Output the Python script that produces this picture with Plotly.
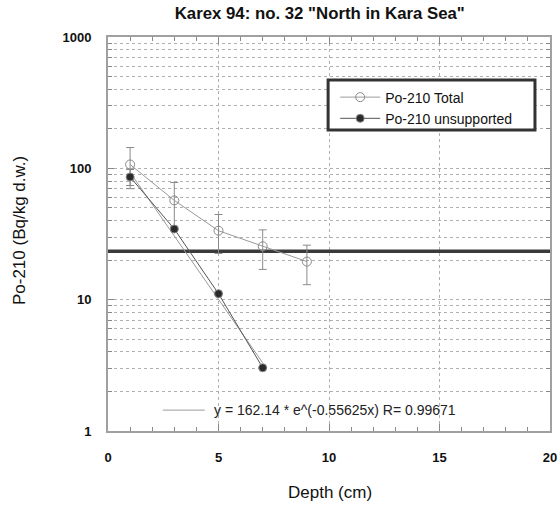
import math
import plotly.graph_objects as go

depth_total = [1, 3, 5, 7, 9]
po_total = [107, 57, 33.5, 25.5, 19.5]
err_total = [37, 21, 11, 8.5, 6.5]

depth_unsup = [1, 3, 5, 7]
po_unsup = [86, 34.5, 11.1, 3.03]
err_unsup = [12, 0, 0, 0]

fit_a = 162.14
fit_b = -0.55625
fit_x = [1, 7]
supported_level = 23.4

x_ticks = [0, 5, 10, 15, 20]
y_ticks = [1, 10, 100, 1000]

fit_y = [fit_a * math.exp(fit_b * x) for x in fit_x]

FONT = "Liberation Sans, Arial, Helvetica"

fig = go.Figure()

fig.add_trace(go.Scatter(
    x=[0, 20], y=[supported_level, supported_level], mode="lines",
    line=dict(color="#3a3a3a", width=3.5), showlegend=False, hoverinfo="skip"))

fig.add_trace(go.Scatter(
    x=fit_x, y=fit_y, mode="lines",
    line=dict(color="#9a9a9a", width=1), showlegend=False))

fig.add_trace(go.Scatter(
    x=depth_total, y=po_total, mode="lines+markers", name="Po-210 Total",
    line=dict(color="#9a9a9a", width=1),
    marker=dict(symbol="circle-open", size=9, color="#8a8a8a", line=dict(width=1)),
    error_y=dict(type="data", array=err_total, color="#8a8a8a", thickness=1, width=4)))

fig.add_trace(go.Scatter(
    x=depth_unsup, y=po_unsup, mode="lines+markers", name="Po-210 unsupported",
    line=dict(color="#555555", width=1),
    marker=dict(symbol="circle", size=8, color="#2a2a2a", line=dict(color="#888", width=1)),
    error_y=dict(type="data", array=err_unsup, color="#8a8a8a", thickness=1, width=4)))

# legend frame
fig.add_shape(type="rect", xref="paper", yref="paper", x0=0.498, x1=0.966, y0=0.764, y1=0.891,
              line=dict(color="#333", width=3), fillcolor="white", layer="above")

# fit label
fig.add_shape(type="line", xref="paper", yref="paper", x0=0.124, x1=0.219, y0=0.053, y1=0.053,
              line=dict(color="#9a9a9a", width=1))
fig.add_annotation(xref="paper", yref="paper", x=0.235, y=0.053, xanchor="left", yanchor="middle",
                   text="y = 162.14 * e^(-0.55625x) R= 0.99671", showarrow=False,
                   font=dict(family=FONT, size=14, color="#222"))

# axis titles
fig.add_annotation(xref="paper", yref="paper", x=-0.2014, y=0.51, xanchor="center", yanchor="middle",
                   text="Po-210 (Bq/kg d.w.)", textangle=-90, showarrow=False,
                   font=dict(family=FONT, size=17, color="#111"))
fig.add_annotation(xref="paper", yref="paper", x=0.502, y=-0.155, xanchor="center", yanchor="middle",
                   text="Depth (cm)", showarrow=False,
                   font=dict(family=FONT, size=17, color="#111"))

fig.update_layout(
    width=560, height=508,
    margin=dict(l=108, r=10, t=37, b=77),
    paper_bgcolor="white", plot_bgcolor="white",
    title=dict(text='<b>Karex 94: no. 32 "North in Kara Sea"</b>', x=0.571, xanchor="center",
               xref="container", y=0.974, yanchor="middle",
               font=dict(family=FONT, size=16.8, color="#111")),
    font=dict(family=FONT, size=13, color="#111"),
    legend=dict(x=0.514, y=0.887, xanchor="left", yanchor="top",
                borderwidth=0, bgcolor="rgba(0,0,0,0)",
                font=dict(family=FONT, size=14, color="#111"), tracegroupgap=0,
                itemwidth=40),
    showlegend=True,
)

fig.update_xaxes(
    range=[0, 20], tickvals=x_ticks, ticktext=[f"<b>{v}</b>" for v in x_ticks],
    showgrid=True, gridcolor="#b0b0b0", griddash="dot", gridwidth=1,
    showline=True, linecolor="#a0a0a0", linewidth=2, mirror="allticks",
    ticks="inside", ticklen=7, tickcolor="#888",
    minor=dict(dtick=1, ticks="inside", ticklen=4, tickcolor="#888", showgrid=False),
    ticklabelstandoff=13, zeroline=False, automargin=False,
    tickfont=dict(size=13),
)

fig.update_yaxes(
    type="log", range=[0, 3], tickvals=y_ticks, ticktext=[f"<b>{v}</b>" for v in y_ticks],
    showgrid=True, gridcolor="#b0b0b0", griddash="dot", gridwidth=1,
    showline=True, linecolor="#a0a0a0", linewidth=2, mirror="allticks",
    ticks="inside", ticklen=6, tickcolor="#888",
    minor=dict(tickvals=[m * 10 ** d for d in range(3) for m in range(2, 10)], ticks="inside",
               ticklen=4, tickcolor="#888", showgrid=True, gridcolor="#b0b0b0", griddash="dot"),
    ticklabelstandoff=12, zeroline=False, automargin=False,
    tickfont=dict(size=13),
)

fig.write_html("out.html")
